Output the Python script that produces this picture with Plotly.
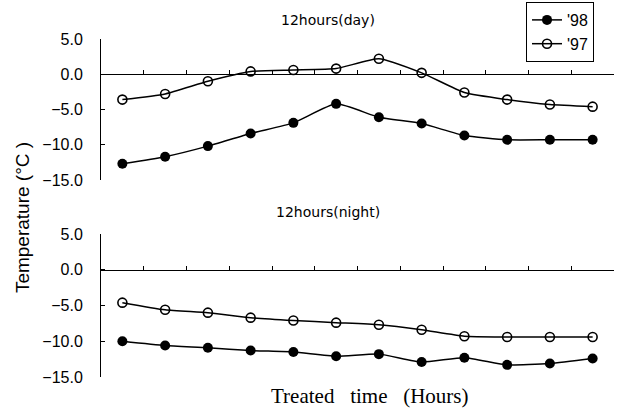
import plotly.graph_objects as go

hours = list(range(1, 13))
day_98 = [-12.7, -11.7, -10.2, -8.4, -6.9, -4.2, -6.1, -7.0, -8.7, -9.3, -9.3, -9.3]
day_97 = [-3.6, -2.8, -1.0, 0.4, 0.6, 0.8, 2.2, 0.2, -2.6, -3.6, -4.3, -4.6]
night_98 = [-10.0, -10.6, -10.9, -11.3, -11.5, -12.1, -11.8, -12.9, -12.3, -13.3, -13.1, -12.4]
night_97 = [-4.6, -5.6, -6.0, -6.7, -7.1, -7.4, -7.7, -8.4, -9.3, -9.4, -9.4, -9.4]
y_ticks = [5, 0, -5, -10, -15]
y_tick_text = ["5.0", "0.0", "\u22125.0", "\u221210.0", "\u221215.0"]

fig = go.Figure()
line_style = dict(color="black", width=1.5, shape="spline", smoothing=0.5)
for xa, ya, s98, s97, show in [("x", "y", day_98, day_97, True), ("x2", "y2", night_98, night_97, False)]:
    fig.add_trace(go.Scatter(x=hours, y=s98, name="'98", mode="lines+markers", xaxis=xa, yaxis=ya,
                             line=line_style, marker=dict(symbol="circle", size=10, color="black"),
                             showlegend=show))
    fig.add_trace(go.Scatter(x=hours, y=s97, name="'97", mode="lines+markers", xaxis=xa, yaxis=ya,
                             line=line_style,
                             marker=dict(symbol="circle-open", size=9, color="black", line=dict(width=1.6)),
                             showlegend=show))

top_dom = [0.583, 1.0]
bot_dom = [0.0, 0.423]
xcommon = dict(range=[0.5, 12.5], tickmode="array", tickvals=[h + 0.5 for h in hours],
               showticklabels=False, ticks="inside", ticklen=4, tickcolor="black",
               showline=True, linecolor="black", linewidth=1, showgrid=False, zeroline=False,
               anchor="free")
ycommon = dict(range=[-15, 5], tickmode="array", tickvals=y_ticks, ticktext=y_tick_text,
               ticks="inside", ticklen=4, tickcolor="black", showline=True, linecolor="black",
               linewidth=1, showgrid=False, zeroline=False, ticklabelstandoff=14,
               tickfont=dict(family="Liberation Sans, Arial", size=16, color="black"))

fig.update_layout(
    width=622, height=410,
    margin=dict(l=101, r=8, t=39, b=33, autoexpand=False),
    paper_bgcolor="white", plot_bgcolor="white",
    xaxis=dict(domain=[0, 1], position=top_dom[0] + 0.75 * (top_dom[1] - top_dom[0]), **xcommon),
    yaxis=dict(domain=top_dom, anchor="x", **ycommon),
    xaxis2=dict(domain=[0, 1], position=bot_dom[0] + 0.75 * (bot_dom[1] - bot_dom[0]), **xcommon),
    yaxis2=dict(domain=bot_dom, anchor="x2", **ycommon),
    legend=dict(x=0.8285, y=1.1095, xanchor="left", yanchor="top", bgcolor="white",
                bordercolor="black", borderwidth=1,
                font=dict(family="Liberation Sans, Arial", size=16, color="black"),
                itemwidth=30, tracegroupgap=0),
    showlegend=True,
)

fig.add_annotation(text="12hours(day)", xref="paper", yref="paper", x=0.442, y=1.056,
                   xanchor="center", yanchor="middle",
                   showarrow=False, font=dict(family="DejaVu Sans", size=14, color="black"))
fig.add_annotation(text="12hours(night)", xref="paper", yref="paper", x=0.442, y=0.488,
                   xanchor="center", yanchor="middle",
                   showarrow=False, font=dict(family="DejaVu Sans", size=14, color="black"))
fig.add_annotation(text="Temperature (\u00b0C )", xref="paper", yref="paper", x=-0.154, y=0.473,
                   xanchor="center", yanchor="middle", textangle=-90, showarrow=False,
                   font=dict(family="Liberation Sans, Arial", size=19, color="black"))
fig.add_annotation(text="Treated\u00a0\u00a0 time\u00a0\u00a0 (Hours)", xref="paper", yref="paper",
                   x=0.524, y=-0.055, xanchor="center", yanchor="middle", showarrow=False,
                   font=dict(family="Liberation Serif, Times New Roman", size=21, color="black"))

fig.write_html("out.html")
